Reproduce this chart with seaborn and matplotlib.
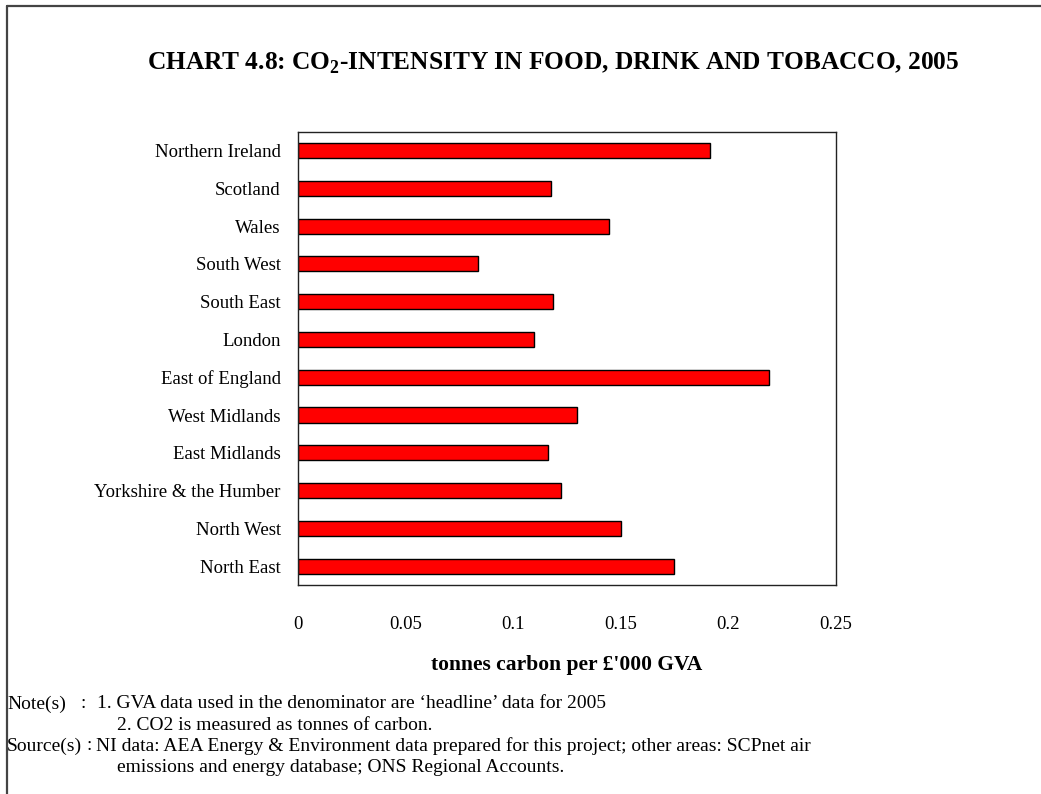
import matplotlib
matplotlib.use("Agg")
import matplotlib.pyplot as plt
import seaborn as sns
import pandas as pd
from matplotlib.lines import Line2D

regions = ["Northern Ireland", "Scotland", "Wales", "South West", "South East",
           "London", "East of England", "West Midlands", "East Midlands",
           "Yorkshire & the Humber", "North West", "North East"]
intensity = [0.1917, 0.1179, 0.1445, 0.0840, 0.1187, 0.1096,
             0.2188, 0.1297, 0.1161, 0.1222, 0.1500, 0.1750]
xticks = [0, 0.05, 0.1, 0.15, 0.2, 0.25]
xtick_labels = ["0", "0.05", "0.1", "0.15", "0.2", "0.25"]

sns.set_theme(style="white")
plt.rcParams["font.family"] = ["Liberation Serif", "DejaVu Serif"]
plt.rcParams["mathtext.fontset"] = "custom"
plt.rcParams["mathtext.rm"] = "Liberation Serif"
plt.rcParams["mathtext.bf"] = "Liberation Serif:bold"
for k in ["text.color", "axes.labelcolor", "xtick.color", "ytick.color"]:
    plt.rcParams[k] = "black"

df = pd.DataFrame({"region": regions, "value": intensity})

fig = plt.figure(figsize=(10.41, 7.94), dpi=100)
ax = fig.add_axes([0.2858, 0.2632, 0.5173, 0.5709])

sns.barplot(data=df, y="region", x="value", order=regions, color="#ff0000",
            saturation=1, width=0.4, edgecolor="black", linewidth=1, ax=ax)

ax.set_xlim(0, 0.25)
ax.set_xticks(xticks)
ax.set_xticklabels(xtick_labels, fontsize=13.5)
ax.tick_params(axis="x", direction="in", length=7, width=1, pad=22, color="#333333")
ax.tick_params(axis="y", length=0, pad=12, labelsize=13.5)
ax.set_ylabel("")
ax.set_xlabel("tonnes carbon per £'000 GVA", fontsize=15.5, fontweight="bold", labelpad=16)
for s in ax.spines.values():
    s.set_visible(True)
    s.set_color("#222222")
    s.set_linewidth(1)

fig.text(553.5/1041, 1-63/794,
         r"CHART 4.8: CO$_\mathbf{2}$-INTENSITY IN FOOD, DRINK AND TOBACCO, 2005",
         ha="center", va="center", fontsize=18.3, fontweight="bold")

fs = 14
fig.text(7/1041, 1-704/794, "Note(s)", ha="left", va="center", fontsize=fs)
fig.text(80/1041, 1-704/794, ":", ha="left", va="center", fontsize=fs)
fig.text(97/1041, 1-704/794,
         "1. GVA data used in the denominator are \u2018headline\u2019 data for 2005",
         ha="left", va="center", fontsize=fs)
fig.text(117/1041, 1-725/794, "2. CO2 is measured as tonnes of carbon.",
         ha="left", va="center", fontsize=fs)
fig.text(7/1041, 1-746/794, "Source(s)", ha="left", va="center", fontsize=fs)
fig.text(86/1041, 1-746/794, ":", ha="left", va="center", fontsize=fs)
fig.text(96/1041, 1-746/794,
         "NI data: AEA Energy & Environment data prepared for this project; other areas: SCPnet air",
         ha="left", va="center", fontsize=fs)
fig.text(117/1041, 1-767/794, "emissions and energy database; ONS Regional Accounts.",
         ha="left", va="center", fontsize=fs)

fig.add_artist(Line2D([7/1041, 7/1041], [0, 1-6/794], transform=fig.transFigure,
                      color="#444444", linewidth=1.6))
fig.add_artist(Line2D([7/1041, 1], [1-6/794, 1-6/794], transform=fig.transFigure,
                      color="#444444", linewidth=1.6))

fig.savefig("out.png", dpi=100)
